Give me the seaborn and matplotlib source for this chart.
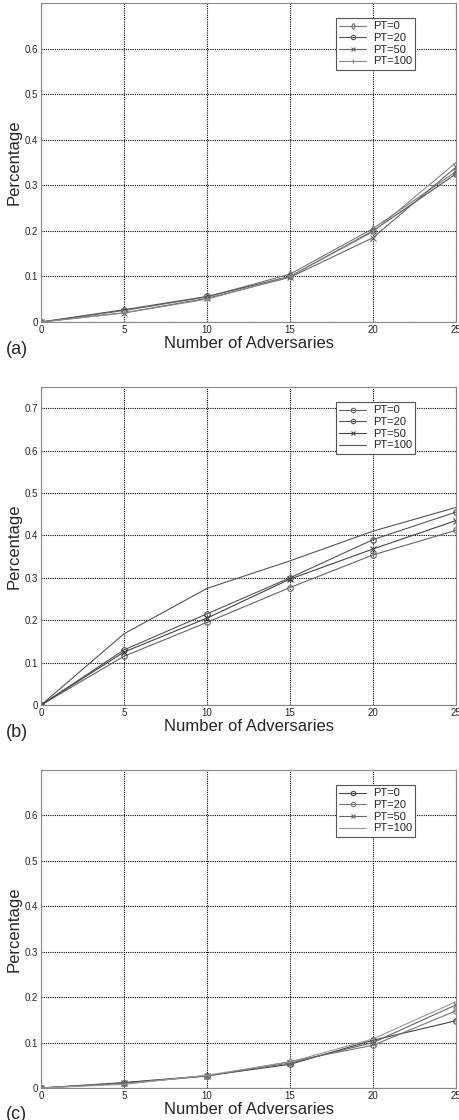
import matplotlib
matplotlib.use("Agg")
import matplotlib.pyplot as plt
import seaborn as sns
import pandas as pd

sns.set_style("white")
plt.rcParams['font.family'] = ['Liberation Sans', 'DejaVu Sans']

x_vals = [0, 5, 10, 15, 20, 25]
series_names = ["PT=0", "PT=20", "PT=50", "PT=100"]

a_pt0 = [0, 0.025, 0.055, 0.105, 0.205, 0.330]
a_pt20 = [0, 0.027, 0.056, 0.100, 0.200, 0.325]
a_pt50 = [0, 0.020, 0.052, 0.098, 0.185, 0.340]
a_pt100 = [0, 0.020, 0.050, 0.100, 0.198, 0.350]

b_pt0 = [0, 0.115, 0.195, 0.277, 0.354, 0.412]
b_pt20 = [0, 0.130, 0.215, 0.300, 0.390, 0.455]
b_pt50 = [0, 0.125, 0.205, 0.297, 0.368, 0.435]
b_pt100 = [0, 0.168, 0.275, 0.340, 0.410, 0.466]

c_pt0 = [0, 0.012, 0.027, 0.052, 0.105, 0.148]
c_pt20 = [0, 0.010, 0.026, 0.058, 0.094, 0.170]
c_pt50 = [0, 0.010, 0.027, 0.055, 0.100, 0.183]
c_pt100 = [0, 0.008, 0.028, 0.057, 0.108, 0.190]

panels = [
    ("(a)", [a_pt0, a_pt20, a_pt50, a_pt100], 0.70, [0, 0.1, 0.2, 0.3, 0.4, 0.5, 0.6],
     ["d", "o", "x", "+"], ["#777777", "#555555", "#666666", "#888888"]),
    ("(b)", [b_pt0, b_pt20, b_pt50, b_pt100], 0.75, [0, 0.1, 0.2, 0.3, 0.4, 0.5, 0.6, 0.7],
     ["o", "o", "x", None], ["#666666", "#555555", "#444444", "#555555"]),
    ("(c)", [c_pt0, c_pt20, c_pt50, c_pt100], 0.70, [0, 0.1, 0.2, 0.3, 0.4, 0.5, 0.6],
     ["o", "o", "x", None], ["#444444", "#777777", "#666666", "#999999"]),
]

fig = plt.figure(figsize=(4.59, 11.2), dpi=100)
boxes = [(0.7125, 0.9973), (0.3705, 0.6545), (0.0286, 0.3125)]
left, right = 0.0893, 0.9935

for (label, ser, ytop, yticks, markers, colors), (b, t) in zip(panels, boxes):
    ax = fig.add_axes([left, b, right - left, t - b])
    for name, vals, mk, col in zip(series_names, ser, markers, colors):
        df = pd.DataFrame({"x": x_vals, "y": vals})
        sns.lineplot(data=df, x="x", y="y", ax=ax, color=col, lw=0.8,
                     marker=mk if mk else None, markersize=4,
                     markerfacecolor="none", markeredgecolor=col, markeredgewidth=0.8,
                     label=name)
    ax.set_xlim(0, 25)
    ax.set_ylim(0, ytop)
    ax.set_xticks([0, 5, 10, 15, 20, 25])
    ax.set_yticks(yticks)
    ax.set_yticklabels(["0"] + [f"{v:.1f}" for v in yticks[1:]])
    ax.grid(True, color="black", linestyle=(0, (1, 1)), linewidth=0.8)
    ax.tick_params(axis="both", labelsize=7, length=0, pad=2)
    for s in ax.spines.values():
        s.set_color("#888888")
        s.set_linewidth(0.8)
    ax.set_xlabel("Number of Adversaries", fontsize=12, labelpad=1)
    ax.set_ylabel("Percentage", fontsize=12, labelpad=2)
    ax.text(-0.085, -0.085, label, transform=ax.transAxes, fontsize=13,
            ha="left", va="center")
    leg = ax.legend(loc="upper right", bbox_to_anchor=(0.915, 0.97), fontsize=8,
                    frameon=True, fancybox=False, borderpad=0.3, labelspacing=0.15,
                    handlelength=2.4, handletextpad=0.6, markerscale=0.8)
    leg.get_frame().set_edgecolor("#555555")
    leg.get_frame().set_linewidth(0.8)
    leg.get_frame().set_alpha(1)

fig.savefig("out.png", dpi=100)
